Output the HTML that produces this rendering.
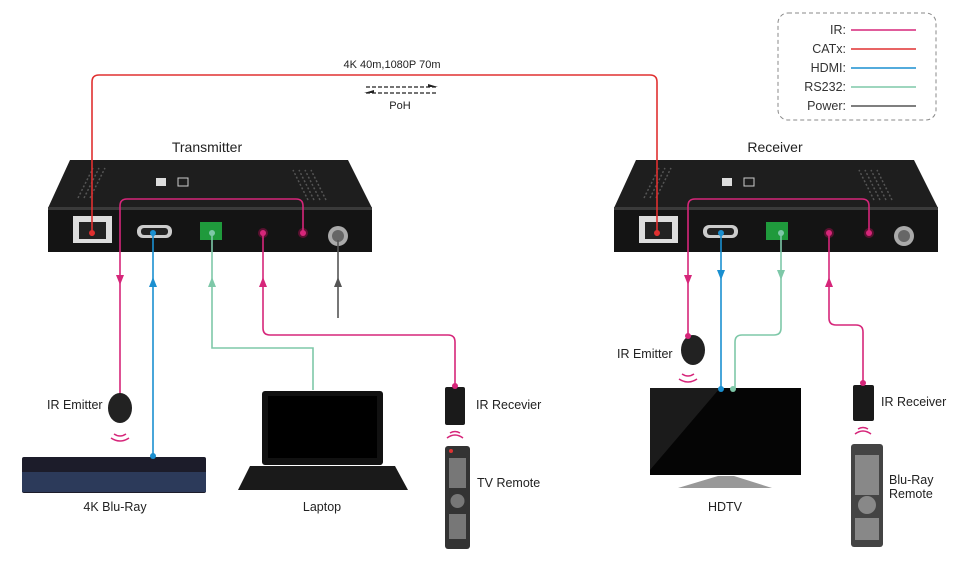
<!DOCTYPE html>
<html><head><meta charset="utf-8"><style>
html,body{margin:0;padding:0;background:#fff;}
svg{display:block;font-family:"Liberation Sans","DejaVu Sans",sans-serif;}
</style></head><body>
<svg width="971" height="581" viewBox="0 0 971 581" xmlns="http://www.w3.org/2000/svg">
<defs>
<g id="box">
  <path d="M22,0 L300,0 L324,48 L0,48 Z" fill="#1e1e1e"/>
  <path d="M0,48 L324,48 L324,92 L0,92 Z" fill="#141414"/>
  <rect x="0" y="47" width="324" height="3" fill="#3a3a3a"/>
  <g stroke="#555" stroke-width="1.5" stroke-dasharray="2,2">
    <line x1="30" y1="38" x2="45" y2="8"/><line x1="36" y1="38" x2="51" y2="8"/><line x1="42" y1="38" x2="57" y2="8"/>
    <line x1="260" y1="40" x2="245" y2="10"/><line x1="266" y1="40" x2="251" y2="10"/><line x1="272" y1="40" x2="257" y2="10"/><line x1="278" y1="40" x2="263" y2="10"/>
  </g>
  <rect x="108" y="18" width="10" height="8" fill="#ddd"/><rect x="130" y="18" width="10" height="8" fill="none" stroke="#ccc"/>
  <rect x="25" y="56" width="39" height="27" fill="#ddd"/><rect x="31" y="62" width="27" height="17" fill="#222"/>
  <rect x="89" y="65" width="35" height="13" rx="6" fill="#ccc"/><rect x="93" y="68" width="27" height="7" rx="3" fill="#222"/>
  <rect x="152" y="62" width="22" height="18" fill="#1f9a3c"/>
  <circle cx="215" cy="73" r="5" fill="#5a1030"/><circle cx="255" cy="73" r="5" fill="#5a1030"/>
  <circle cx="290" cy="76" r="10" fill="#aaa"/><circle cx="290" cy="76" r="6" fill="#666"/>
</g>
<g id="remote">
  <rect x="0" y="0" width="25" height="103" rx="3" fill="#333"/>
  <g fill="#777"><rect x="4" y="12" width="17" height="30"/><circle cx="12.5" cy="55" r="7"/><rect x="4" y="68" width="17" height="25"/></g>
  <circle cx="6" cy="5" r="2" fill="#d33"/>
</g>
</defs>
<!-- legend -->
<rect x="778" y="13" width="158" height="107" rx="10" fill="none" stroke="#888" stroke-dasharray="4,3"/>
<g font-size="12.5" fill="#333" text-anchor="end">
<text x="846" y="34">IR:</text><text x="846" y="53">CATx:</text><text x="846" y="72">HDMI:</text><text x="846" y="91">RS232:</text><text x="846" y="110">Power:</text></g>
<g stroke-width="1.5"><line x1="851" y1="30" x2="916" y2="30" stroke="#d6267a"/><line x1="851" y1="49" x2="916" y2="49" stroke="#e03030"/><line x1="851" y1="68" x2="916" y2="68" stroke="#1a8fd0"/><line x1="851" y1="87" x2="916" y2="87" stroke="#7ec8a8"/><line x1="851" y1="106" x2="916" y2="106" stroke="#555"/></g>
<text x="392" y="68" font-size="11" fill="#222" text-anchor="middle">4K 40m,1080P 70m</text>
<g stroke="#222" stroke-width="1.3" stroke-dasharray="4,2"><line x1="366" y1="87" x2="436" y2="87"/><line x1="366" y1="93" x2="436" y2="93"/></g>
<path d="M428,84 L438,87 L428,87Z M374,90 L364,93 L374,93Z" fill="#222"/>
<text x="400" y="109" font-size="11" fill="#222" text-anchor="middle">PoH</text>
<text x="207" y="152" font-size="14" fill="#222" text-anchor="middle">Transmitter</text>
<text x="775" y="152" font-size="14" fill="#222" text-anchor="middle">Receiver</text>
<use href="#box" x="48" y="160"/><use href="#box" x="614" y="160"/>
<!-- lines -->
<g fill="none" stroke-width="1.6">
<path d="M92,236 V82 Q92,75 99,75 H650 Q657,75 657,82 V236" stroke="#e03030"/>
<path d="M303,233 V206 Q303,199 296,199 H127 Q120,199 120,206 V395" stroke="#d6267a"/>
<path d="M153,455 V233" stroke="#1a8fd0"/>
<path d="M313,390 V348 H212 V233" stroke="#7ec8a8"/>
<path d="M455,385 V342 Q455,335 448,335 H270 Q263,335 263,328 V233" stroke="#d6267a"/>
<path d="M338,318 V240" stroke="#555"/>
<path d="M869,233 V206 Q869,199 862,199 H695 Q688,199 688,206 V335" stroke="#d6267a"/>
<path d="M721,233 V388" stroke="#1a8fd0"/>
<path d="M781,233 V328 Q781,335 774,335 H742 Q735,335 735,342 V388" stroke="#7ec8a8"/>
<path d="M863,383 V332 Q863,325 856,325 H836 Q829,325 829,318 V233" stroke="#d6267a"/>
</g>
<g>
<path d="M116,275 L124,275 L120,285Z" fill="#d6267a"/>
<path d="M149,287 L157,287 L153,277Z" fill="#1a8fd0"/>
<path d="M208,287 L216,287 L212,277Z" fill="#7ec8a8"/>
<path d="M259,287 L267,287 L263,277Z" fill="#d6267a"/>
<path d="M334,287 L342,287 L338,277Z" fill="#555"/>
<path d="M684,275 L692,275 L688,285Z" fill="#d6267a"/>
<path d="M717,270 L725,270 L721,280Z" fill="#1a8fd0"/>
<path d="M777,270 L785,270 L781,280Z" fill="#7ec8a8"/>
<path d="M825,287 L833,287 L829,277Z" fill="#d6267a"/>
<circle cx="92" cy="233" r="3" fill="#e03030"/><circle cx="657" cy="233" r="3" fill="#e03030"/>
<circle cx="303" cy="233" r="3" fill="#d6267a"/><circle cx="263" cy="233" r="3" fill="#d6267a"/><circle cx="869" cy="233" r="3" fill="#d6267a"/><circle cx="829" cy="233" r="3" fill="#d6267a"/>
<circle cx="153" cy="233" r="3" fill="#1a8fd0"/><circle cx="721" cy="233" r="3" fill="#1a8fd0"/>
<circle cx="212" cy="233" r="3" fill="#7ec8a8"/><circle cx="781" cy="233" r="3" fill="#7ec8a8"/>
</g>
<!-- TX devices -->
<ellipse cx="120" cy="408" rx="12" ry="15" fill="#222"/>
<g fill="none" stroke="#d6267a" stroke-width="1.5"><path d="M114,434 Q120,438 126,434"/><path d="M111,438 Q120,444 129,438"/></g>
<rect x="22" y="457" width="184" height="36" rx="2" fill="#1c1c2a"/><rect x="22" y="472" width="184" height="20" fill="#2c3a5a"/>
<circle cx="153" cy="456" r="3" fill="#1a8fd0"/>
<rect x="262" y="391" width="121" height="74" rx="3" fill="#111"/><rect x="268" y="396" width="109" height="62" fill="#000"/>
<path d="M250,466 L395,466 L408,490 L238,490Z" fill="#1a1a1a"/>
<rect x="445" y="387" width="20" height="38" rx="2" fill="#1a1a1a"/><circle cx="455" cy="386" r="3" fill="#d6267a"/>
<g fill="none" stroke="#d6267a" stroke-width="1.5"><path d="M450,433 Q455,430 460,433"/><path d="M447,438 Q455,432 463,438"/></g>
<use href="#remote" x="445" y="446"/>
<!-- RX devices -->
<ellipse cx="693" cy="350" rx="12" ry="15" fill="#222"/><circle cx="688" cy="336" r="3" fill="#d6267a"/>
<g fill="none" stroke="#d6267a" stroke-width="1.5"><path d="M682,374 Q688,378 694,374"/><path d="M679,379 Q688,385 697,379"/></g>
<rect x="650" y="388" width="151" height="87" fill="#050505"/>
<path d="M650,388 L720,388 L650,470Z" fill="#2a2a2a" opacity="0.6"/>
<path d="M718,476 L734,476 L772,488 L678,488Z" fill="#999"/>
<circle cx="721" cy="389" r="3" fill="#1a8fd0"/><circle cx="733" cy="389" r="3" fill="#7ec8a8"/>
<rect x="853" y="385" width="21" height="36" rx="2" fill="#1a1a1a"/><circle cx="863" cy="383" r="3" fill="#d6267a"/>
<g fill="none" stroke="#d6267a" stroke-width="1.5"><path d="M858,429 Q863,426 868,429"/><path d="M855,434 Q863,428 871,434"/></g>
<rect x="851" y="444" width="32" height="103" rx="3" fill="#444"/>
<g fill="#888"><rect x="855" y="455" width="24" height="40"/><circle cx="867" cy="505" r="9"/><rect x="855" y="518" width="24" height="22"/></g>
<!-- labels -->
<g font-size="12.5" fill="#222">
<text x="47" y="409">IR Emitter</text>
<text x="476" y="409">IR Recevier</text>
<text x="477" y="487">TV Remote</text>
<text x="115" y="511" text-anchor="middle">4K Blu-Ray</text>
<text x="322" y="511" text-anchor="middle">Laptop</text>
<text x="617" y="358">IR Emitter</text>
<text x="881" y="406">IR Receiver</text>
<text x="725" y="511" text-anchor="middle">HDTV</text>
<text x="889" y="484">Blu-Ray</text>
<text x="889" y="498">Remote</text>
</g>
</svg>
</body></html>
